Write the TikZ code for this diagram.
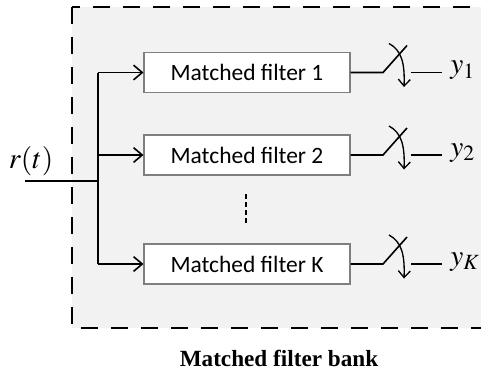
\documentclass[tikz,border=0pt]{standalone}
\usepackage{mathptmx}
\usepackage{fontspec}
\setmainfont{Liberation Serif}
\newfontfamily\boxfont{Carlito}
\usetikzlibrary{arrows.meta}
\usetikzlibrary{positioning}
\definecolor{bankgray}{RGB}{242,242,242}
\definecolor{boxgray}{RGB}{127,127,127}

\tikzset{
  bankframe/.style={line width=2.2pt, fill=bankgray, dash pattern=on 12.5pt off 10pt},
  filterbox/.style={draw=boxgray, line width=0.8pt, fill=white, inner sep=0pt,
    minimum width=154.5pt, minimum height=30pt, font=\boxfont\fontsize{17.6}{20}\selectfont},
  wire/.style={line width=1.2pt},
  feed/.style={wire, -{Straight Barb[length=6.5pt, width=11pt, line width=1.2pt]}},
  turn/.style={line width=1pt, -{Straight Barb[length=5pt, width=9pt, line width=1pt]}},
  outlabel/.style={anchor=west, inner sep=0pt, font=\fontsize{22}{26}\selectfont},
}

\begin{document}
\begin{tikzpicture}[x=0.75pt,y=0.75pt,yscale=-1,xscale=1]
\useasboundingbox (0,0) rectangle (481,376);
\clip (0,0) rectangle (481,376);

% Dashed bank frame
\draw[bankframe] (72,7) rectangle (520,328);

% Filters
\node[filterbox] (mf1) at (247,72.5) {Matched filter 1};
\node[filterbox] (mf2) at (247,155) {Matched filter 2};
\node[filterbox] (mfK) at (247,264) {Matched filter K};

% Input and bus
\coordinate (in) at (25,181);
\coordinate (tap) at (98,181);
\coordinate (bus1) at (98,72.5);
\coordinate (bus2) at (98,155);
\coordinate (busK) at (98,264);
\node[inner sep=0pt, font=\fontsize{22}{26}\selectfont] (rt) at (31,161) {$r(t)$};

\draw[wire] (in) -- (tap);
\draw[wire] (bus1) -- (busK);
\draw[feed] (bus1) -- (mf1);
\draw[feed] (bus2) -- (mf2);
\draw[feed] (busK) -- (mfK);

% Dots
\coordinate (dtop) at (246,194);
\coordinate (dbot) at (246,223);
\draw[line width=2pt, dash pattern=on 3.8pt off 2.2pt] (dtop) -- (dbot);

% Switch 1
\coordinate (sw1) at (383,72.5);
\coordinate (arm1) at (407,45.5);
\coordinate (o1) at (411,72.5);
\coordinate (e1) at (442,72.5);
\draw[wire] (mf1.east) -- (sw1) -- (arm1);
\draw[turn] (389,43.5) .. controls (401,50) and (405,62) .. (404,87);
\draw[wire] (o1) -- (e1);
\node[outlabel] (y1) at (450,70.5) {$y_1$};

% Switch 2
\coordinate (sw2) at (383,155);
\coordinate (arm2) at (407,128);
\coordinate (o2) at (411,155);
\coordinate (e2) at (442,155);
\draw[wire] (mf2.east) -- (sw2) -- (arm2);
\draw[turn] (389,126) .. controls (401,132.5) and (405,144.5) .. (404,169.5);
\draw[wire] (o2) -- (e2);
\node[outlabel] (y2) at (450,153) {$y_2$};

% Switch K
\coordinate (swK) at (383,264);
\coordinate (armK) at (407,237);
\coordinate (oK) at (411,264);
\coordinate (eK) at (442,264);
\draw[wire] (mfK.east) -- (swK) -- (armK);
\draw[turn] (389,235) .. controls (401,241.5) and (405,253.5) .. (404,278.5);
\draw[wire] (oK) -- (eK);
\node[outlabel] (yK) at (450,262) {$y_K$};

% Title
\node[font=\bfseries\fontsize{17.4}{20}\selectfont] (title) at (279,358) {Matched filter bank};

\end{tikzpicture}
\end{document}
